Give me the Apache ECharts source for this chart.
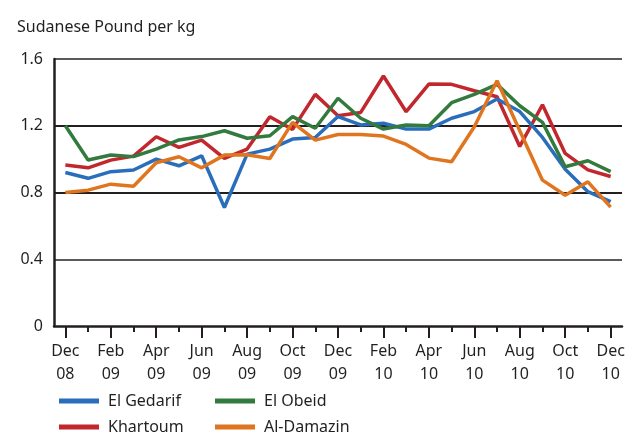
<!DOCTYPE html>
<html>
<head>
    <meta charset="UTF-8">
    <title>Sudanese Pound per kg</title>
    <script src="https://cdn.jsdelivr.net/npm/echarts@6/dist/echarts.min.js"></script>
    <style>
        html, body { margin: 0; padding: 0; background: #fff; }
        #main { width: 634px; height: 434px; }
    </style>
</head>
<body>
<div id="main"></div>
<script>
    // 月份（Dec 08 - Dec 10）
    var months = ['Dec\n08', 'Jan\n09', 'Feb\n09', 'Mar\n09', 'Apr\n09', 'May\n09', 'Jun\n09',
        'Jul\n09', 'Aug\n09', 'Sep\n09', 'Oct\n09', 'Nov\n09', 'Dec\n09', 'Jan\n10', 'Feb\n10',
        'Mar\n10', 'Apr\n10', 'May\n10', 'Jun\n10', 'Jul\n10', 'Aug\n10', 'Sep\n10', 'Oct\n10',
        'Nov\n10', 'Dec\n10'];

    var elGedarif = [0.92, 0.885, 0.925, 0.935, 1.0, 0.96, 1.02, 0.71, 1.03, 1.06, 1.12, 1.13,
        1.255, 1.205, 1.215, 1.18, 1.18, 1.245, 1.285, 1.36, 1.285, 1.13, 0.94, 0.805, 0.745];
    var elObeid = [1.2, 0.995, 1.025, 1.015, 1.06, 1.115, 1.135, 1.17, 1.125, 1.14, 1.255, 1.185,
        1.365, 1.245, 1.18, 1.205, 1.2, 1.338, 1.388, 1.448, 1.32, 1.22, 0.954, 0.99, 0.925];
    var khartoum = [0.965, 0.948, 0.994, 1.018, 1.134, 1.07, 1.114, 1.004, 1.06, 1.254, 1.178, 1.388,
        1.26, 1.28, 1.498, 1.284, 1.45, 1.448, 1.41, 1.374, 1.076, 1.326, 1.034, 0.936, 0.896];
    var alDamazin = [0.80, 0.814, 0.85, 0.838, 0.978, 1.014, 0.948, 1.024, 1.026, 1.004, 1.22, 1.114,
        1.148, 1.148, 1.138, 1.088, 1.006, 0.984, 1.194, 1.47, 1.17, 0.874, 0.784, 0.864, 0.712];

    var yTicks = [0, 0.4, 0.8, 1.2, 1.6];

    var font = 'Noto Sans';
    var textColor = '#231f20';

    function legendAt(name, left, top) {
        return {
            data: [name],
            left: left,
            top: top,
            icon: 'rect',
            itemWidth: 40,
            itemHeight: 5,
            textStyle: {
                fontFamily: font,
                fontSize: 16,
                color: textColor,
                padding: [0, 0, 0, 4]
            }
        };
    }

    var myChart = echarts.init(document.getElementById('main'), null, {renderer: 'canvas'});

    var option = {
        animation: false,
        backgroundColor: '#fff',
        title: {
            text: 'Sudanese Pound per kg',
            left: 12,
            top: 14,
            textStyle: {
                fontFamily: font,
                fontSize: 16,
                fontWeight: 'normal',
                color: textColor
            }
        },
        legend: [
            legendAt('El Gedarif', 54, 388),
            legendAt('El Obeid', 210, 388),
            legendAt('Khartoum', 54, 414),
            legendAt('Al-Damazin', 210, 414)
        ],
        grid: {
            left: 54,
            right: 12,
            top: 59,
            bottom: 108
        },
        xAxis: [
            {
                type: 'category',
                data: months,
                boundaryGap: true,
                axisLine: {show: true, lineStyle: {color: '#231f20', width: 2.5}},
                axisTick: {
                    show: true,
                    alignWithLabel: true,
                    interval: 0,
                    length: 6,
                    lineStyle: {color: '#231f20', width: 2}
                },
                axisLabel: {
                    interval: function (index) { return index % 2 === 0; },
                    margin: 14,
                    lineHeight: 23,
                    fontFamily: font,
                    fontSize: 16,
                    color: textColor
                }
            },
            {
                type: 'category',
                data: months,
                boundaryGap: true,
                position: 'bottom',
                axisLine: {show: false},
                axisLabel: {show: false},
                axisTick: {
                    show: true,
                    alignWithLabel: true,
                    interval: function (index) { return index % 2 === 0; },
                    length: 12,
                    lineStyle: {color: '#231f20', width: 2}
                }
            }
        ],
        yAxis: {
            type: 'value',
            min: yTicks[0],
            max: yTicks[yTicks.length - 1],
            interval: 0.4,
            axisLine: {show: true, lineStyle: {color: '#231f20', width: 2.5}},
            axisTick: {show: false},
            axisLabel: {
                margin: 11,
                fontFamily: font,
                fontSize: 16,
                color: textColor,
                formatter: function (v) { return v === 0 ? '0' : v.toFixed(1); }
            },
            splitLine: {
                show: true,
                lineStyle: {
                    color: ['rgba(0,0,0,0)', '#5a5a5a', '#231f20', '#231f20', '#5a5a5a'],
                    width: 2
                }
            }
        },
        series: [
            {
                name: 'Khartoum',
                type: 'line',
                data: khartoum,
                symbol: 'none',
                color: '#c1272d',
                lineStyle: {width: 3.5}
            },
            {
                name: 'El Gedarif',
                type: 'line',
                data: elGedarif,
                symbol: 'none',
                color: '#2a6ebb',
                lineStyle: {width: 3.5}
            },
            {
                name: 'El Obeid',
                type: 'line',
                data: elObeid,
                symbol: 'none',
                color: '#327a3d',
                lineStyle: {width: 3.5}
            },
            {
                name: 'Al-Damazin',
                type: 'line',
                data: alDamazin,
                symbol: 'none',
                color: '#e0751f',
                lineStyle: {width: 3.5}
            }
        ]
    };

    myChart.setOption(option);
</script>
</body>
</html>
